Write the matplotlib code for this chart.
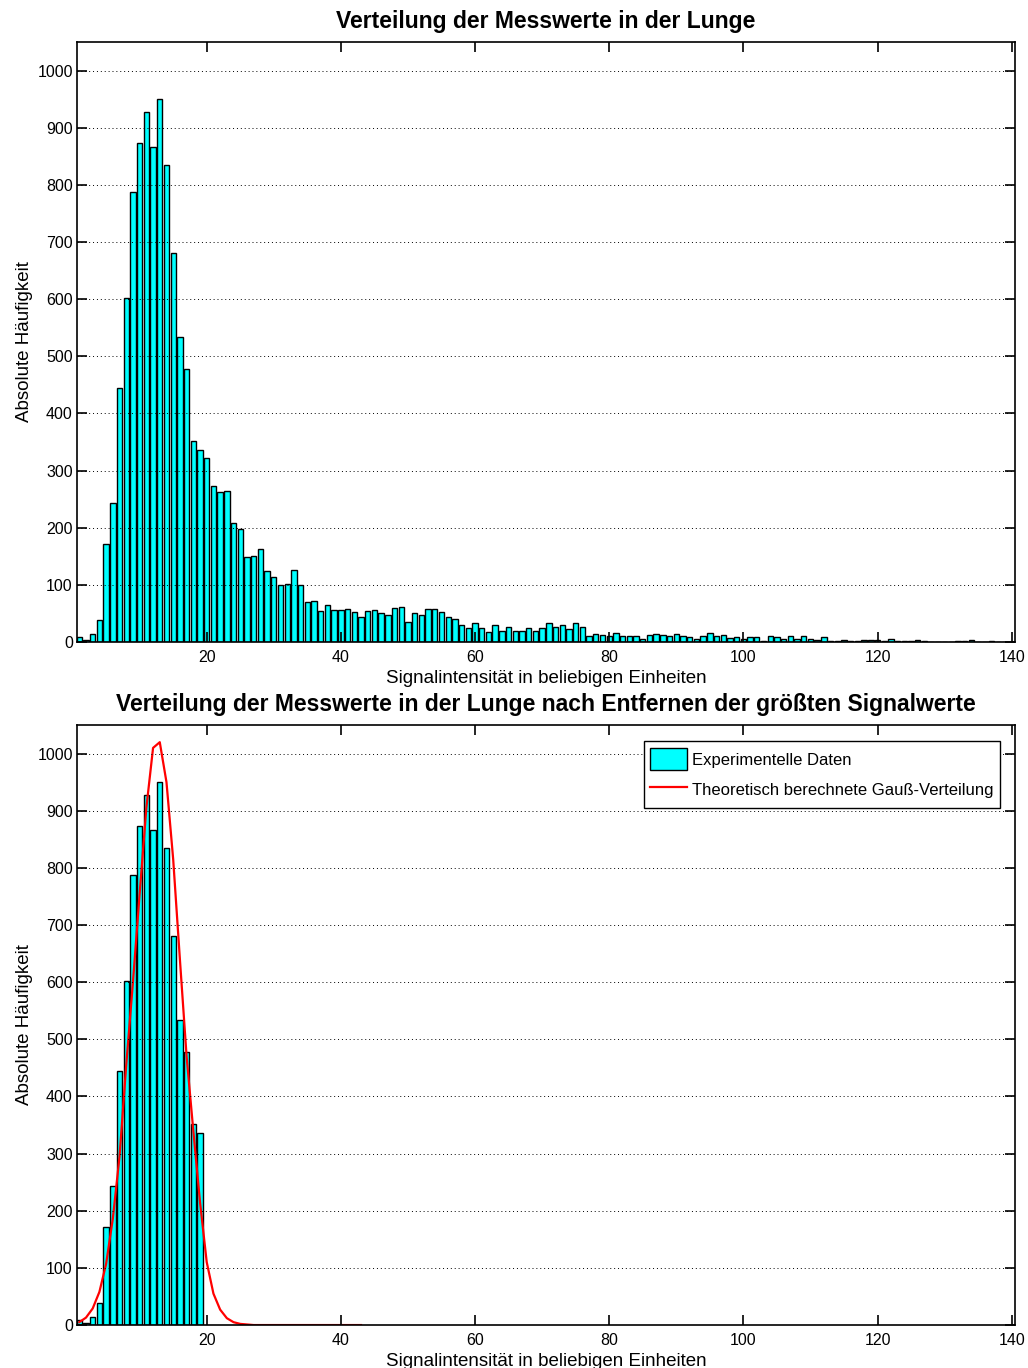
import numpy as np
import matplotlib
matplotlib.use('Agg')
import matplotlib.pyplot as plt

# Histogramm der Messwerte (Bin-Mitten 1..140)
binCenters = np.arange(1, 141)
counts = [9, 4, 14, 39, 171, 243, 445, 602, 787, 874,
          927, 867, 950, 835, 681, 534, 477, 351, 336, 322,
          273, 263, 265, 209, 197, 148, 150, 162, 125, 114,
          100, 102, 126, 100, 70, 72, 54, 64, 56, 56,
          57, 52, 44, 54, 56, 51, 48, 60, 61, 35,
          51, 48, 57, 58, 52, 44, 41, 30, 25, 34,
          25, 18, 29, 20, 26, 19, 19, 25, 19, 25,
          33, 26, 29, 23, 33, 26, 11, 14, 12, 11,
          15, 11, 11, 11, 5, 12, 14, 12, 10, 14,
          10, 8, 6, 11, 15, 11, 12, 7, 9, 5,
          9, 8, 2, 11, 8, 5, 11, 5, 11, 5,
          4, 8, 1, 2, 4, 2, 1, 4, 4, 4,
          1, 6, 1, 2, 2, 4, 1, 0, 0, 0,
          0, 1, 1, 3, 0, 0, 1, 0, 0, 0]

# nach Entfernen der groessten Signalwerte bleiben die ersten 19 Bins
nKeep = 19

# theoretische Gauss-Kurve
gaussX = np.arange(1, 44)
gaussY = [5, 13, 29, 58, 107, 186, 295, 455, 600, 755,
          905, 1010, 1020, 950, 815, 640, 470, 340, 215, 110,
          55, 27, 12, 5, 2, 1, 0, 0, 0, 0,
          0, 0, 0, 0, 0, 0, 0, 0, 0, 0,
          0, 0, 0]

xLabel = 'Signalintensität in beliebigen Einheiten'
yLabel = 'Absolute Häufigkeit'
title1 = 'Verteilung der Messwerte in der Lunge'
title2 = 'Verteilung der Messwerte in der Lunge nach Entfernen der größten Signalwerte'

plt.rcParams['font.family'] = ['Liberation Sans', 'DejaVu Sans']
plt.rcParams['font.size'] = 11.5


def styleAxes(ax, title):
	ax.set_xlim(0.66, 140.5)
	ax.set_ylim(0, 1050)
	ax.set_xticks(np.arange(20, 141, 20))
	ax.set_yticks(np.arange(0, 1001, 100))
	ax.tick_params(direction='in', top=True, right=True, length=7, width=1.2, pad=3)
	ax.tick_params(axis='x', pad=6)
	ax.set_axisbelow(False)
	ax.yaxis.grid(True, linestyle=(0, (1, 3)), color='k', linewidth=0.7)
	for sp in ax.spines.values():
		sp.set_linewidth(1.2)
	ax.set_xlabel(xLabel, fontsize=13.5, labelpad=3)
	ax.set_ylabel(yLabel, fontsize=13.5, labelpad=3)
	ax.set_title(title, fontweight='bold', fontsize=16.5, pad=10)


fig = plt.figure(figsize=(10.28, 13.68), dpi=100)
ax1 = fig.add_axes([0.0749, 0.5307, 0.9125, 0.4386])
ax2 = fig.add_axes([0.0749, 0.0314, 0.9125, 0.4386])

ax1.bar(binCenters, counts, width=0.8, color='cyan', edgecolor='k', linewidth=1.0)
styleAxes(ax1, title1)

bars = ax2.bar(binCenters[:nKeep], counts[:nKeep], width=0.8, color='cyan', edgecolor='k',
			   linewidth=1.0, label='Experimentelle Daten')
line, = ax2.plot(gaussX, gaussY, color='red', linewidth=1.6,
				 label='Theoretisch berechnete Gauß-Verteilung')
styleAxes(ax2, title2)
leg = ax2.legend([bars, line], [bars.get_label(), line.get_label()],
				 loc='upper right', bbox_to_anchor=(0.984, 0.973), fancybox=False,
				 edgecolor='k', framealpha=1, fontsize=12, handlelength=2.2,
				 handleheight=1.7, borderpad=0.4, labelspacing=0.5, handletextpad=0.3,
				 borderaxespad=0)
leg.get_frame().set_linewidth(1.0)

fig.savefig('out.png', dpi=100)
